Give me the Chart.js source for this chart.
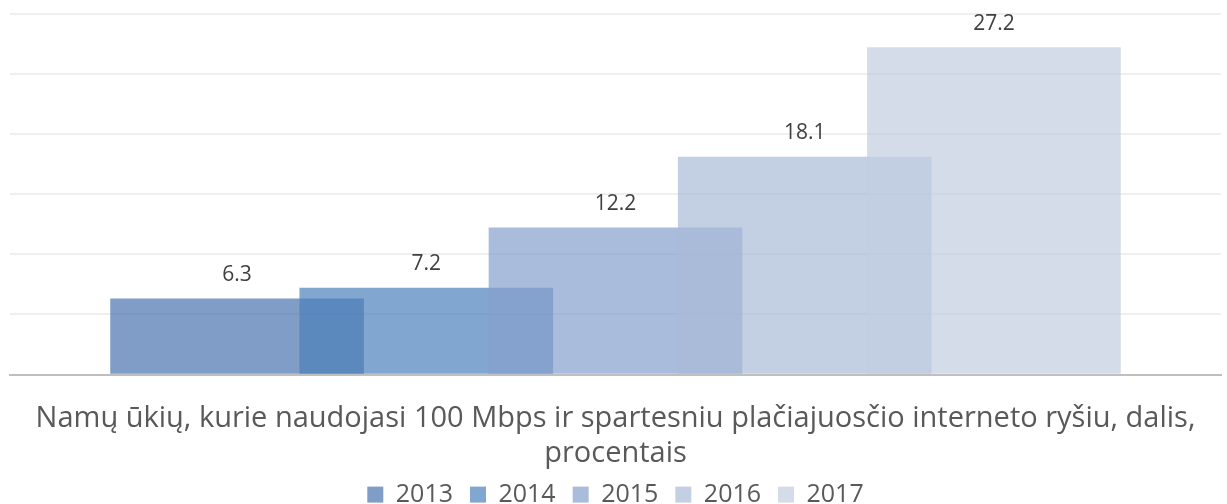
<!DOCTYPE html>
<html>
<head>
<meta charset="utf-8">
<script src="https://cdn.jsdelivr.net/npm/chart.js@4/dist/chart.umd.min.js"></script>
<style>
  html, body { margin: 0; padding: 0; background: #ffffff; }
  #wrap { position: relative; width: 1227px; height: 504px; }
</style>
</head>
<body>
<div id="wrap"><canvas id="c"></canvas></div>
<script>
const years = ['2013', '2014', '2015', '2016', '2017'];
const values = [6.3, 7.2, 12.2, 18.1, 27.2];
const colors = [
  'rgba(72,116,174,0.7)',
  'rgba(76,128,186,0.7)',
  'rgba(134,159,204,0.7)',
  'rgba(170,187,215,0.7)',
  'rgba(194,205,224,0.7)'
];
const axisTitle = ['Namų ūkių, kurie naudojasi 100 Mbps ir spartesniu plačiajuosčio interneto ryšiu, dalis,', 'procentais'];
const FONT = "'Open Sans', 'DejaVu Sans', sans-serif";

const datasets = years.map((y, i) => ({
  label: y,
  data: [{ x: i, y: values[i] }],
  backgroundColor: colors[i],
  borderWidth: 0,
  order: years.length - i
}));

const valueLabels = {
  id: 'valueLabels',
  afterDatasetsDraw(chart) {
    const ctx = chart.ctx;
    ctx.save();
    ctx.font = "21px " + FONT;
    ctx.fillStyle = '#404040';
    ctx.textAlign = 'center';
    ctx.textBaseline = 'middle';
    chart.data.datasets.forEach((ds, i) => {
      const meta = chart.getDatasetMeta(i);
      meta.data.forEach((el, j) => {
        ctx.fillText(String(ds.data[j].y), el.x, el.y - 24);
      });
    });
    ctx.restore();
  }
};

new Chart(document.getElementById('c'), {
  type: 'bar',
  data: { datasets },
  plugins: [valueLabels],
  options: {
    responsive: true,
    maintainAspectRatio: false,
    animation: false,
    events: [],
    layout: { padding: { left: 10, right: 6, top: 14, bottom: -13.1 } },
    datasets: { bar: { grouped: false, barThickness: 253 } },
    scales: {
      x: {
        type: 'linear',
        min: -1.2,
        max: 5.2,
        offset: false,
        grid: { display: false, drawTicks: false },
        border: { display: true, color: '#bfbfbf', width: 2 },
        ticks: { display: false },
        title: {
          display: true,
          text: axisTitle,
          color: '#595959',
          font: { family: FONT, size: 29 },
          padding: { top: 27, bottom: -6 }
        }
      },
      y: {
        min: 0,
        max: 30,
        ticks: { display: false, stepSize: 5 },
        grid: { color: '#efefef', lineWidth: 2, drawTicks: false },
        border: { display: false }
      }
    },
    plugins: {
      legend: {
        position: 'bottom',
        labels: {
          boxWidth: 16,
          boxHeight: 16,
          color: '#595959',
          font: { family: FONT, size: 25 },
          padding: 17,
          sort: (a, b) => a.datasetIndex - b.datasetIndex
        }
      },
      tooltip: { enabled: false }
    }
  }
});
</script>
</body>
</html>
